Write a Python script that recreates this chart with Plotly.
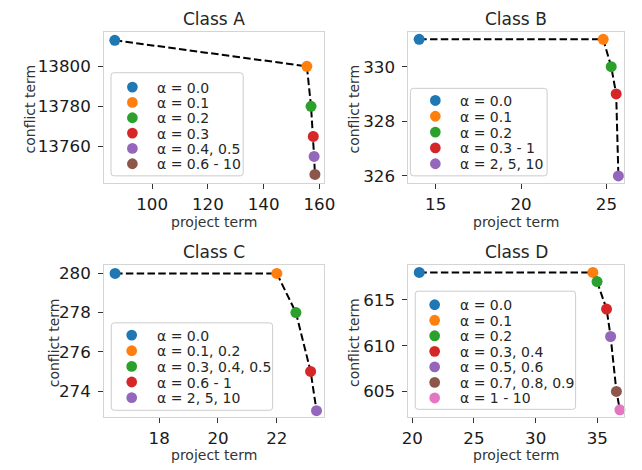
import plotly.graph_objects as go

W, H = 642, 470

# Project term (x) vs conflict term (y), one point per group of alpha values
a_project = [86.6, 155.5, 157.0, 157.8, 158.1, 158.4]
a_conflict = [13813, 13800, 13780, 13765, 13755, 13746]
a_labels = ["α = 0.0", "α = 0.1", "α = 0.2", "α = 0.3", "α = 0.4, 0.5", "α = 0.6 - 10"]

b_project = [14.03, 24.81, 25.28, 25.57, 25.70]
b_conflict = [331, 331, 330, 329, 326]
b_labels = ["α = 0.0", "α = 0.1", "α = 0.2", "α = 0.3 - 1", "α = 2, 5, 10"]

c_project = [16.5, 22.0, 22.65, 23.15, 23.35]
c_conflict = [280, 280, 278, 275, 273]
c_labels = ["α = 0.0", "α = 0.1, 0.2", "α = 0.3, 0.4, 0.5", "α = 0.6 - 1", "α = 2, 5, 10"]

d_project = [20.57, 34.64, 34.98, 35.75, 36.08, 36.55, 36.83]
d_conflict = [618, 618, 617, 614, 611, 605, 603]
d_labels = ["α = 0.0", "α = 0.1", "α = 0.2", "α = 0.3, 0.4", "α = 0.5, 0.6",
            "α = 0.7, 0.8, 0.9", "α = 1 - 10"]

# Tick values per panel
a_xticks, a_yticks = [100, 120, 140, 160], [13760, 13780, 13800]
b_xticks, b_yticks = [15, 20, 25], [326, 328, 330]
c_xticks, c_yticks = [18, 20, 22], [274, 276, 278, 280]
d_xticks, d_yticks = [20, 25, 30, 35], [605, 610, 615]

titles = ["Class A", "Class B", "Class C", "Class D"]

PALETTE = ["#1f77b4", "#ff7f0e", "#2ca02c", "#d62728", "#9467bd", "#8c564b", "#e377c2"]

FONT = "DejaVu Sans"

# Layout of each panel: plot rectangle in pixels, axis ranges, legend geometry
panels = [
    dict(x=a_project, y=a_conflict, labels=a_labels, xt=a_xticks, yt=a_yticks,
         rect=(100, 30, 326, 183), xr=(82.8, 161.6), yr=(13741.7, 13817.3),
         box=(107, 71.5, 243, 175.7), mx=129, row0=86, dy=15.5, ylab_x=23.3),
    dict(x=b_project, y=b_conflict, labels=b_labels, xt=b_xticks, yt=b_yticks,
         rect=(413, 30, 635, 183), xr=(13.40, 26.04), yr=(325.74, 331.28),
         box=(415, 87.3, 555.7, 175.7), mx=440.7, row0=99.5, dy=16.0, ylab_x=356.7),
    dict(x=c_project, y=c_conflict, labels=c_labels, xt=c_xticks, yt=c_yticks,
         rect=(100, 266, 326, 419), xr=(16.13, 23.6), yr=(272.7, 280.42),
         box=(107.3, 324.3, 273.3, 412.7), mx=128.3, row0=336.7, dy=15.8, ylab_x=48.3),
    dict(x=d_project, y=d_conflict, labels=d_labels, xt=d_xticks, yt=d_yticks,
         rect=(413, 266, 635, 419), xr=(19.69, 37.18), yr=(602.26, 618.79),
         box=(420, 292.3, 585, 411.7), mx=440, row0=306, dy=15.7, ylab_x=357.7),
]


def px(x):
    return x / W


def py(y):
    return 1 - y / H


def rounded_rect(x0, y0, x1, y1, r):
    pts = [
        ("M", [(x0 + r, y0)]), ("L", [(x1 - r, y0)]), ("Q", [(x1, y0), (x1, y0 + r)]),
        ("L", [(x1, y1 - r)]), ("Q", [(x1, y1), (x1 - r, y1)]), ("L", [(x0 + r, y1)]),
        ("Q", [(x0, y1), (x0, y1 - r)]), ("L", [(x0, y0 + r)]), ("Q", [(x0, y0), (x0 + r, y0)]),
    ]
    parts = []
    for cmd, coords in pts:
        parts.append(cmd + " " + " ".join(f"{px(a):.5f},{py(b):.5f}" for a, b in coords))
    return " ".join(parts) + " Z"


fig = go.Figure()
shapes, annotations = [], []
layout = dict(
    width=W, height=H, margin=dict(l=0, r=0, t=0, b=0),
    paper_bgcolor="white", plot_bgcolor="white", showlegend=False,
    font=dict(family=FONT, color="#222222"),
)

for i, p in enumerate(panels, start=1):
    xa = "x" if i == 1 else f"x{i}"
    ya = "y" if i == 1 else f"y{i}"
    x0, y0, x1, y1 = p["rect"]
    n = len(p["x"])
    colors = PALETTE[:n]

    # dashed trade-off curve, then the points on top
    fig.add_trace(go.Scatter(
        x=p["x"], y=p["y"], mode="lines", xaxis=xa, yaxis=ya,
        line=dict(color="black", width=2, dash="7.5px,3.3px"), hoverinfo="skip"))
    fig.add_trace(go.Scatter(
        x=p["x"], y=p["y"], mode="markers", xaxis=xa, yaxis=ya,
        marker=dict(color=colors, size=11, line=dict(width=0)),
        text=p["labels"], cliponaxis=False))

    axis_common = dict(
        showgrid=False, zeroline=False, showline=True, mirror=True,
        linecolor="#d4d4d4", linewidth=1, ticks="outside", ticklen=5, tickwidth=1,
        tickcolor="#333333", tickfont=dict(family=FONT, size=16.7, color="#1a1a1a"),
        tickformat="d",
    )
    layout["xaxis" if i == 1 else f"xaxis{i}"] = dict(
        axis_common, domain=[px(x0), px(x1)], anchor=ya, range=list(p["xr"]),
        tickvals=p["xt"], ticklabelstandoff=1)
    layout["yaxis" if i == 1 else f"yaxis{i}"] = dict(
        axis_common, domain=[py(y1), py(y0)], anchor=xa, range=list(p["yr"]),
        tickvals=p["yt"], ticklabelstandoff=4)

    cx = (x0 + x1) / 2
    # panel title and axis titles
    annotations.append(dict(
        text=titles[i - 1], x=px(cx), y=py(y0 - 13.3), xref="paper", yref="paper",
        xanchor="center", yanchor="middle", showarrow=False,
        font=dict(family=FONT, size=17, color="#262626")))
    annotations.append(dict(
        text="project term", x=px(cx), y=py(y1 + 38.9), xref="paper", yref="paper",
        xanchor="center", yanchor="middle", showarrow=False,
        font=dict(family=FONT, size=14, color="#333333")))
    annotations.append(dict(
        text="conflict term", x=px(p["ylab_x"]), y=py((y0 + y1) / 2 + 1.5),
        xref="paper", yref="paper", xanchor="center", yanchor="middle",
        textangle=-90, showarrow=False,
        font=dict(family=FONT, size=14, color="#333333")))

    # legend frame, swatches and entries
    bx0, by0, bx1, by1 = p["box"]
    shapes.append(dict(
        type="path", xref="paper", yref="paper",
        path=rounded_rect(bx0, by0, bx1, by1, 3),
        fillcolor="rgba(255,255,255,0.8)", line=dict(color="#cccccc", width=1)))
    for k, label in enumerate(p["labels"]):
        ry = p["row0"] + k * p["dy"]
        shapes.append(dict(
            type="circle", xref="paper", yref="paper",
            x0=px(p["mx"] - 5.5), x1=px(p["mx"] + 5.5),
            y0=py(ry + 5.5), y1=py(ry - 5.5),
            fillcolor=colors[k], line=dict(width=0)))
        annotations.append(dict(
            text=label, x=px(p["mx"] + 23.5), y=py(ry + 0.5), xref="paper", yref="paper",
            xanchor="left", yanchor="middle", showarrow=False,
            font=dict(family=FONT, size=14, color="#262626")))

layout["shapes"] = shapes
layout["annotations"] = annotations
fig.update_layout(**layout)

fig.write_html("out.html")
